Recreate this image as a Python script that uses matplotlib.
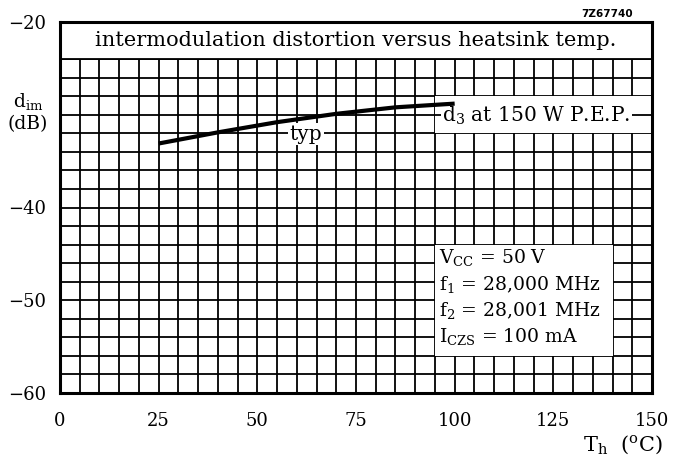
import numpy as np
import matplotlib
matplotlib.use("Agg")
import matplotlib.pyplot as plt
from matplotlib.patches import Rectangle

# curve (heatsink temp in degC, d3 in dB)
temp = [25, 40, 55, 70, 85, 100]
d3 = [-33.1, -31.9, -30.8, -29.9, -29.2, -28.8]

xticks = [0, 25, 50, 75, 100, 125, 150]
yticks = [-60, -50, -40, -30, -20]
ytick_labels = ["\u221260", "\u221250", "\u221240", "", "\u221220"]

title = "intermodulation distortion versus heatsink temp."
conditions = ["V$_\\mathregular{CC}$ = 50 V",
              "f$_\\mathregular{1}$ = 28,000 MHz",
              "f$_\\mathregular{2}$ = 28,001 MHz",
              "I$_\\mathregular{CZS}$ = 100 mA"]

plt.rcParams['font.family'] = ['DejaVu Serif']
plt.rcParams['mathtext.default'] = 'regular'

fig = plt.figure(figsize=(6.73, 4.62), dpi=100)
ax = fig.add_axes([60/673, 69/462, 592/673, 371/462])

ax.set_xlim(0, 150)
ax.set_ylim(-60, -20)

# grid: every 5 degC and every 2 dB
ax.set_xticks(xticks)
ax.set_xticks(np.arange(0, 151, 5), minor=True)
ax.set_yticks(yticks)
ax.set_yticklabels(ytick_labels)
ax.set_yticks(np.arange(-60, -19, 2), minor=True)
ax.grid(which='both', color='black', linewidth=1.3, zorder=1)
ax.set_axisbelow(True)
ax.tick_params(which='both', length=0, labelsize=13)
ax.tick_params(axis='y', pad=10)
ax.tick_params(axis='x', pad=14)
for s in ax.spines.values():
    s.set_linewidth(2.2)
    s.set_zorder(10)

# title box at top of grid
ax.add_patch(Rectangle((0, -24), 150, 4, facecolor='white', edgecolor='none', zorder=3))
ax.plot([0, 150], [-24, -24], color='black', linewidth=1.3, zorder=4)
ax.text(75, -22, title, ha='center', va='center', fontsize=15, zorder=5)

# the curve
ax.plot(temp, d3, color='black', linewidth=3, solid_capstyle='butt', zorder=6)

# curve labels
ax.add_patch(Rectangle((95, -32), 55, 4, facecolor='white', edgecolor='none', zorder=3))
ax.plot([95, 150], [-30, -30], color='black', linewidth=1.3, zorder=4)
ax.text(120.7, -30.1, "d$_\\mathregular{3}$ at 150 W P.E.P.", ha='center', va='center',
        fontsize=14.5, zorder=5,
        bbox=dict(facecolor='white', edgecolor='none', pad=1))
ax.text(62.3, -32.1, "typ", ha='center', va='center', fontsize=14.5, zorder=5,
        bbox=dict(facecolor='white', edgecolor='none', pad=1))

# operating conditions
ax.add_patch(Rectangle((95, -56), 45, 12, facecolor='white', edgecolor='none', zorder=3))
for i, line in enumerate(conditions):
    ax.text(96.0, -45.4 - 2.85*i, line, ha='left', va='center', fontsize=13.5, zorder=5)

# axis labels
ax.text(-0.054, 0.757, "d$_\\mathregular{im}$\n(dB)", transform=ax.transAxes,
        ha='center', va='center', fontsize=13.5, linespacing=1.25)
ax.text(1.018, -0.14, "T$_\\mathregular{h}$  ($^\\mathregular{o}$C)", transform=ax.transAxes,
        ha='right', va='center', fontsize=15)

ax.text(0.968, 1.022, "7Z67740", transform=ax.transAxes, ha='right', va='center',
        fontsize=7.5, fontweight='bold', family='DejaVu Sans')

fig.savefig("out.png", dpi=100)
